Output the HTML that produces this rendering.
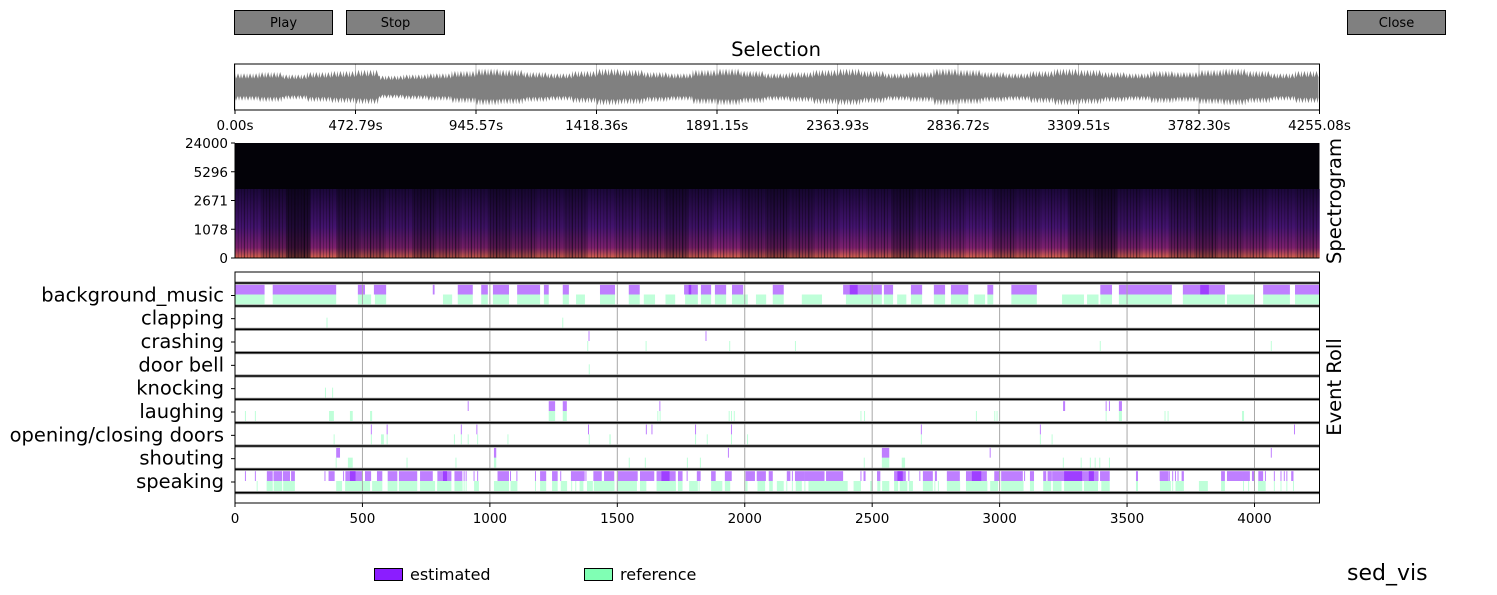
<!DOCTYPE html>
<html><head><meta charset="utf-8">
<style>
html,body{margin:0;padding:0;background:#fff;}
body{width:1497px;height:595px;overflow:hidden;font-family:"DejaVu Sans","Liberation Sans",sans-serif;}
svg{position:absolute;left:0;top:0;}
</style></head>
<body>
<svg id="chart" width="1497" height="595" font-family="DejaVu Sans, Liberation Sans, sans-serif">
  <g><rect x="234.5" y="10.5" width="98" height="24" fill="#808080" stroke="#000"/><text x="283.5" y="27" font-size="13" text-anchor="middle">Play</text></g>
  <g><rect x="346.5" y="10.5" width="98" height="24" fill="#808080" stroke="#000"/><text x="395.5" y="27" font-size="13" text-anchor="middle">Stop</text></g>
  <g><rect x="1347.5" y="10.5" width="98" height="24" fill="#808080" stroke="#000"/><text x="1396.5" y="27" font-size="13" text-anchor="middle">Close</text></g>
  <text x="776" y="56" font-size="19.5" text-anchor="middle">Selection</text>
  <g id="wave"></g>
  <g id="spec"></g>
  <text transform="translate(1341,201) rotate(-90)" font-size="19.5" text-anchor="middle">Spectrogram</text>
  <g id="roll"></g>
  <text transform="translate(1341,387) rotate(-90)" font-size="19.5" text-anchor="middle">Event Roll</text>
  <g>
    <g><rect x="374.5" y="568.5" width="28" height="12" fill="#8b1dff" stroke="#000"/><text x="410" y="580" font-size="16">estimated</text></g>
    <g><rect x="584.5" y="568.5" width="28" height="12" fill="#80ffb4" stroke="#000"/><text x="620" y="580" font-size="16">reference</text></g>
  </g>
  <text x="1347" y="580" font-size="22">sed_vis</text>
</svg>
<script>
const NS="http://www.w3.org/2000/svg";
const duration=4255.08;
const waveTicks=["0.00s","472.79s","945.57s","1418.36s","1891.15s","2363.93s","2836.72s","3309.51s","3782.30s","4255.08s"];
const waveEnvelope=[12,13,11,13,14,15,10,11,12,14,16,15,13,12,14,16,15,13,12,15,16,14,12,13,15,16,14,12,13,16,15,13,12,14,16,15,13,12,14,13,15,16,14,12,14];
const specTicks=["24000","5296","2671","1078","0"];
const specEnergy=[0.9,0.7,0.4,0.9,0.6,0.7,0.8,0.6,0.7,0.8,0.6,0.7,0.8,0.7,0.9,0.8,0.7,0.6,0.8,0.9,0.7,0.6,0.7,0.8,0.9,0.8,0.6,0.7,0.8,0.9,0.7,0.8,0.9,0.6,0.5,0.8,0.9,0.7,0.6,0.7,0.8,0.9,0.8];
const rollTicks=[0,500,1000,1500,2000,2500,3000,3500,4000];
const classes=["background_music","clapping","crashing","door bell","knocking","laughing","opening/closing doors","shouting","speaking"];
const estBackground=[[1,116],[148,397],[482,510],[545,593],[776,783],[874,933],[966,992],[1012,1075],[1107,1197],[1212,1231],[1286,1310],[1432,1491],[1545,1588],[1762,1816],[1780,1790],[1828,1868],[1883,1927],[1950,1994],[2110,2153],[2386,2538],[2412,2443],[2546,2582],[2652,2696],[2742,2786],[2809,2877],[2952,2975],[3046,3146],[3395,3441],[3468,3676],[3719,3884],[3787,3821],[4034,4139],[4159,4255]];
const refBackground=[[1,116],[148,397],[482,534],[549,593],[816,852],[874,933],[966,992],[1012,1075],[1107,1197],[1212,1231],[1286,1310],[1338,1373],[1432,1491],[1545,1588],[1604,1648],[1689,1727],[1766,1816],[1828,1868],[1883,1927],[1950,2012],[2044,2084],[2110,2153],[2224,2303],[2397,2538],[2546,2582],[2598,2634],[2652,2696],[2742,2786],[2809,2877],[2900,2943],[2952,2975],[3046,3146],[3245,3331],[3343,3388],[3395,3441],[3468,3676],[3719,3884],[3892,4002],[4034,4139],[4159,4255]];
const estClapping=[];
const refClapping=[[359,362],[1284,1287]];
const estCrashing=[[1387,1390],[1846,1849]];
const refCrashing=[[1382,1385],[1611,1614],[1939,1942],[2197,2200],[3393,3396],[4064,4067]];
const estDoorbell=[];
const refDoorbell=[[1388,1391]];
const estKnocking=[];
const refKnocking=[[353,356],[381,384]];
const estLaughing=[[913,916],[1231,1256],[1286,1302],[1665,1668],[3249,3257],[3416,3419],[3429,3432],[3468,3480]];
const refLaughing=[[39,42],[78,81],[369,388],[451,462],[530,538],[1231,1256],[1286,1302],[1657,1660],[1666,1669],[1937,1940],[1946,1949],[1957,1960],[2454,2457],[2468,2471],[2907,2910],[2979,2982],[2988,2991],[3416,3419],[3468,3480],[3647,3650],[3659,3662],[3951,3959]];
const estDoors=[[533,536],[595,598],[886,889],[947,950],[1385,1388],[1612,1615],[1634,1637],[1805,1808],[1946,1949],[2691,2694],[3158,3161],[4155,4158]];
const refDoors=[[387,390],[573,584],[533,536],[595,598],[859,862],[886,889],[913,916],[950,953],[1069,1072],[1388,1391],[1469,1474],[1805,1808],[1851,1854],[1946,1949],[2009,2012],[2691,2694],[3158,3161],[3204,3207]];
const estShouting=[[397,412],[1016,1025],[1934,1937],[2538,2567],[2961,2964],[4064,4067]];
const refShouting=[[395,398],[443,462],[673,676],[865,868],[1016,1025],[1545,1548],[1608,1611],[1773,1776],[1824,1827],[2467,2470],[2538,2567],[2616,2629],[3248,3251],[3318,3321],[3354,3357],[3373,3376],[3391,3394],[3429,3432]];
const estSpeaking=[[39,42],[78,81],[125,148],[151,185],[188,216],[220,235],[351,354],[367,391],[424,427],[433,499],[451,473],[510,534],[557,578],[599,637],[643,715],[726,776],[794,849],[816,832],[861,892],[897,900],[905,908],[936,939],[950,953],[1030,1075],[1079,1082],[1104,1107],[1177,1180],[1197,1221],[1244,1266],[1276,1279],[1318,1372],[1375,1378],[1406,1439],[1448,1488],[1502,1580],[1589,1645],[1654,1729],[1673,1705],[1738,1756],[1772,1775],[1812,1827],[1868,1886],[1922,1949],[2003,2040],[2047,2083],[2094,2110],[2165,2179],[2185,2188],[2197,2236],[2236,2313],[2319,2386],[2454,2457],[2466,2474],[2519,2532],[2586,2632],[2599,2620],[2642,2645],[2685,2688],[2699,2738],[2746,2754],[2793,2844],[2868,2950],[2891,2928],[2979,3002],[3006,3091],[3096,3099],[3119,3135],[3171,3183],[3188,3205],[3206,3253],[3253,3324],[3253,3324],[3324,3343],[3343,3388],[3350,3370],[3394,3432],[3535,3543],[3628,3663],[3664,3667],[3677,3680],[3688,3691],[3698,3701],[3714,3723],[3869,3884],[3892,3953],[3953,3982],[3990,4002],[4015,4034],[4041,4044],[4076,4079],[4102,4105],[4115,4118],[4125,4128],[4144,4153]];
const refSpeaking=[[85,88],[124,148],[152,185],[189,235],[397,420],[432,530],[538,578],[599,637],[643,715],[726,785],[793,849],[861,893],[897,900],[905,908],[938,957],[1016,1075],[1081,1108],[1177,1180],[1197,1221],[1244,1266],[1278,1303],[1319,1322],[1335,1338],[1352,1367],[1381,1404],[1408,1489],[1502,1577],[1589,1614],[1654,1730],[1738,1756],[1782,1816],[1819,1822],[1868,1912],[1922,1943],[2003,2011],[2050,2080],[2096,2110],[2126,2153],[2163,2166],[2185,2188],[2200,2224],[2234,2237],[2250,2404],[2427,2456],[2492,2500],[2520,2532],[2539,2567],[2586,2602],[2608,2638],[2644,2660],[2699,2738],[2744,2747],[2758,2761],[2793,2845],[2868,2952],[2963,2994],[3006,3094],[3119,3135],[3171,3202],[3209,3243],[3253,3324],[3331,3386],[3399,3432],[3535,3543],[3629,3672],[3677,3680],[3690,3723],[3782,3817],[3869,3884],[3955,3958],[3975,3978],[4014,4044],[4076,4079],[4102,4105],[4125,4128],[4151,4154]];
const estimated=[estBackground,estClapping,estCrashing,estDoorbell,estKnocking,estLaughing,estDoors,estShouting,estSpeaking];
const reference=[refBackground,refClapping,refCrashing,refDoorbell,refKnocking,refLaughing,refDoors,refShouting,refSpeaking];

function mk(tag,attrs,parent,txt){const e=document.createElementNS(NS,tag);for(const k in attrs)e.setAttribute(k,attrs[k]);if(txt!==undefined)e.textContent=txt;parent.appendChild(e);return e;}
const X0=235,X1=1319.5;
function xs(s){return X0+(s/duration)*(X1-X0);}

// waveform
const wave=document.getElementById('wave');
const WY0=64,WY1=110,WC=87;
waveTicks.forEach((t,i)=>{const x=xs(parseFloat(t));
  const g=mk('line',{x1:x,x2:x,y1:WY0,y2:WY1,stroke:'#b0b0b0','stroke-width':0.8},wave);
  
  
});
let pts=[];const n=waveEnvelope.length;
const sub=24;
for(let i=0;i<n;i++){for(let j=0;j<sub;j++){const s=(i*sub+j)/(n*sub)*duration;const a=waveEnvelope[i]*(j%3===0?1.15:(j%2?0.7:0.9));pts.push(xs(s)+','+(WC-a));}}
for(let i=n-1;i>=0;i--){for(let j=sub-1;j>=0;j--){const s=(i*sub+j)/(n*sub)*duration;const a=waveEnvelope[i]*(j%3===1?1.15:(j%2?0.75:0.9));pts.push(xs(s)+','+(WC+a));}}
const wp=mk('polygon',{points:pts.join(' '),fill:'#808080'},wave);


const wb=mk('rect',{x:X0-0.5,y:WY0,width:X1-X0+0.5,height:WY1-WY0,fill:'none',stroke:'#000','stroke-width':1},wave);


waveTicks.forEach((t,i)=>{const x=xs(parseFloat(t));
  mk('line',{x1:x,x2:x,y1:WY1,y2:WY1+4,stroke:'#000'},wave);
  const tl=mk('text',{x:x,y:WY1+20,'font-size':13.5,'text-anchor':'middle'},wave,t);
  
  
});

// spectrogram
const spec=document.getElementById('spec');
const SY0=143,SY1=258,SC=189;
const defs=mk('defs',{},spec);
const gr=mk('linearGradient',{id:'sg',x1:0,y1:0,x2:0,y2:1},defs);
mk('stop',{offset:'0','stop-color':'#1e0840'},gr);
mk('stop',{offset:'0.55','stop-color':'#4a157a'},gr);
mk('stop',{offset:'0.85','stop-color':'#8a2378'},gr);
mk('stop',{offset:'1','stop-color':'#f07050'},gr);
const sbg=mk('rect',{x:X0,y:SY0,width:X1-X0,height:SY1-SY0,fill:'#030208'},spec);


const seg=duration/specEnergy.length;
specEnergy.forEach((e,i)=>{
  const x=xs(i*seg),w=xs((i+1)*seg)-x;
  const r=mk('rect',{x:x,y:SC,width:w+0.3,height:SY1-SC,fill:'url(#sg)',opacity:e},spec);
  
  
  for(let k=1;k<8;k++){const lx=x+w*k/8;mk('line',{x1:lx,x2:lx,y1:SC,y2:SY1,stroke:'#0a0410','stroke-width':(k%3?0.6:1.2),opacity:1-e*0.6},spec);}
});
specTicks.forEach((t,i)=>{const y=SY0+i*(SY1-SY0)/4;
  mk('line',{x1:X0-4,x2:X0,y1:y,y2:y,stroke:'#000'},spec);
  const tl=mk('text',{x:X0-7,y:y+5,'font-size':13.5,'text-anchor':'end'},spec,t);
  
  
});
mk('line',{x1:X0,x2:X0,y1:SY0,y2:SY1,stroke:'#000'},spec);
mk('line',{x1:X0,x2:X1,y1:SY1,y2:SY1,stroke:'#000'},spec);

// event roll
const roll=document.getElementById('roll');
const RY0=272,RY1=503;
const lines=[283,306,329.3,352.7,376,399.3,422.7,446,469.3,492.7];
const rf=mk('rect',{x:X0,y:RY0,width:X1-X0,height:RY1-RY0,fill:'#fff',stroke:'none'},roll);


classes.forEach((c,i)=>{
  const top=lines[i],bot=lines[i+1],h=bot-top;
  reference[i].forEach(s=>{const x=xs(s[0]),w=Math.max(1,xs(s[1])-x);
    const r=mk('rect',{x:x,y:top+h*0.5,width:w,height:h*0.43,fill:'#7fffb3','fill-opacity':0.5},roll);
    
    
  });
  estimated[i].forEach(s=>{const x=xs(s[0]),w=Math.max(1,xs(s[1])-x);
    const r=mk('rect',{x:x,y:top+h*0.08,width:w,height:h*0.42,fill:'#7f00ff','fill-opacity':0.5},roll);
    
    
  });
});
rollTicks.forEach(t=>{const x=xs(t);
  const g=mk('line',{x1:x,x2:x,y1:RY0,y2:RY1,stroke:'#a8a8a8','stroke-width':1},roll);
  
  
  mk('line',{x1:x,x2:x,y1:RY1,y2:RY1+4,stroke:'#000'},roll);
  const tl=mk('text',{x:x,y:RY1+20,'font-size':13.5,'text-anchor':'middle'},roll,String(t));
  
  
});
lines.forEach(y=>{mk('line',{x1:X0,x2:X1,y1:y,y2:y,stroke:'#a0a0a0','stroke-width':3.2},roll);mk('line',{x1:X0,x2:X1,y1:y,y2:y,stroke:'#000','stroke-width':1.6},roll);});
classes.forEach((c,i)=>{const y=(lines[i]+lines[i+1])/2+1;
  mk('line',{x1:X0-4,x2:X0,y1:y,y2:y,stroke:'#000'},roll);
  const tl=mk('text',{x:X0-11,y:y+6,'font-size':19.5,'text-anchor':'end'},roll,c);
  
  
});
const rb=mk('rect',{x:X0,y:RY0,width:X1-X0,height:RY1-RY0,fill:'none',stroke:'#000','stroke-width':1},roll);


</script>
</body></html>
